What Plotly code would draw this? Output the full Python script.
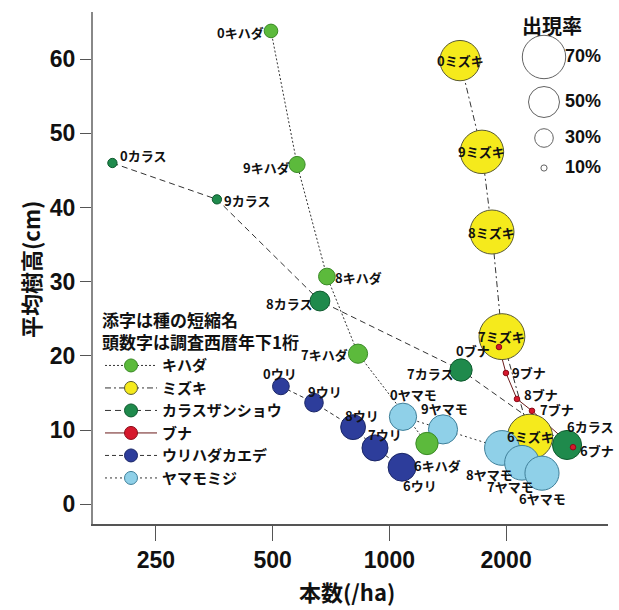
import math
import plotly.graph_objects as go

# 調査年(西暦下1桁)
years = ["0", "9", "8", "7", "6"]

# 種名と図中の短縮名
species = ["キハダ", "ミズキ", "カラスザンショウ", "ブナ", "ウリハダカエデ", "ヤマモミジ"]
short_names = ["キハダ", "ミズキ", "カラス", "ブナ", "ウリ", "ヤマモ"]

# 本数(/ha)
kihada_n = [495, 578, 690, 830, 1250]
mizuki_n = [1521, 1733, 1839, 1951, 2305]
karasu_n = [193, 359, 662, 1530, 2872]
buna_n = [1917, 1998, 2133, 2332, 2976]
uri_n = [525, 639, 806, 918, 1078]
yamamo_n = [1084, 1375, 1951, 2198, 2475]

# 平均樹高(cm)
kihada_h = [63.8, 45.8, 30.7, 20.3, 8.2]
mizuki_h = [59.8, 47.5, 36.7, 22.6, 9.1]
karasu_h = [46.0, 41.1, 27.4, 18.1, 8.0]
buna_h = [21.2, 17.7, 14.2, 12.6, 7.7]
uri_h = [15.9, 13.7, 10.4, 7.6, 5.0]
yamamo_h = [11.8, 10.1, 7.6, 5.6, 4.2]

# 出現率(%)
kihada_rate = [22, 26, 27, 31, 36]
mizuki_rate = [65, 70, 71, 74, 73]
karasu_rate = [15, 15, 32, 36, 47]
buna_rate = [9, 9, 9, 9, 9]
uri_rate = [27, 30, 40, 42, 45]
yamamo_rate = [44, 47, 56, 56, 55]

# 出現率の凡例
rate_legend = [70, 50, 30, 10]

x_tickvals = [250, 500, 1000, 2000]
y_tickvals = [0, 10, 20, 30, 40, 50, 60]

counts = [kihada_n, mizuki_n, karasu_n, buna_n, uri_n, yamamo_n]
heights = [kihada_h, mizuki_h, karasu_h, buna_h, uri_h, yamamo_h]
rates = [kihada_rate, mizuki_rate, karasu_rate, buna_rate, uri_rate, yamamo_rate]

# 表示スタイル
fills = ["#5cba3c", "#f5ea1c", "#1f8a4c", "#d6182c", "#2d3d9b", "#8fd0e8"]
edges = ["#3a8a26", "#5a5a30", "#0e5a2e", "#8a0c18", "#1a2666", "#3f7f99"]
dashes = ["2px,2px", "6px,3px,2px,3px", "6px,4px", "solid", "4px,3px", "2px,3px"]
line_colors = ["#333333", "#333333", "#333333", "#6a1a1a", "#333333", "#333333"]
draw_order = [1, 5, 4, 2, 0, 3]  # ミズキ→ヤマモミジ→ウリ→カラス→キハダ→ブナ

# ラベル位置 (xanchor, xshift, yshift)
label_pos = [
    [("right", -5, -2), ("right", -5, -3), ("left", 6, -1), ("right", -8, -1), ("center", 11, -22)],
    [("center", 0, 0)] * 5,
    [("left", 6, 8), ("left", 5, -1), ("right", -6, -2), ("right", -6, -3), ("center", 23, 18)],
    [("right", -7, -3), ("left", 4, 1), ("left", 5, 4), ("left", 6, 1), ("left", 5, -3)],
    [("center", -1, 13), ("center", 11, 11), ("center", 9, 12), ("center", 10, 13), ("center", 18, -18)],
    [("center", 11, 22), ("center", 1, 21), ("center", -12, -27), ("center", -12, -24), ("center", 1, -25)],
]

PX_PER_PCT = 0.62


def diam(r):
    return r * PX_PER_PCT


JP = "Noto Sans CJK JP"
NUM = "Liberation Sans, Arial"

fig = go.Figure()

# 年次を結ぶ線
for i in range(len(species)):
    fig.add_trace(go.Scatter(
        x=counts[i], y=heights[i], mode="lines",
        line=dict(color=line_colors[i], width=1, dash=dashes[i]),
        showlegend=False, hoverinfo="skip"))

# 出現率を直径で示すバブル
for i in draw_order:
    fig.add_trace(go.Scatter(
        x=counts[i], y=heights[i], mode="markers",
        marker=dict(size=[diam(r) for r in rates[i]], sizemode="diameter",
                    color=fills[i], opacity=1,
                    line=dict(color=edges[i], width=1)),
        showlegend=False,
        hovertext=[y + short_names[i] for y in years]))

# 種の凡例
for i in range(len(species)):
    fig.add_trace(go.Scatter(
        x=[None], y=[None], mode="lines+markers", name=species[i],
        line=dict(color=line_colors[i], width=1, dash=dashes[i]),
        marker=dict(size=13, color=fills[i], line=dict(color=edges[i], width=1))))

# 出現率の凡例 (画素座標の重ね軸)
leg_y = [57, 102, 138, 168]
fig.add_trace(go.Scatter(
    x=[544] * len(rate_legend), y=leg_y, xaxis="x2", yaxis="y2",
    mode="markers",
    marker=dict(size=[diam(r) for r in rate_legend], sizemode="diameter",
                color="white", line=dict(color="#222", width=1)),
    showlegend=False, hoverinfo="skip"))
fig.add_trace(go.Scatter(
    x=[565] * len(rate_legend), y=leg_y, xaxis="x2", yaxis="y2",
    mode="text", text=["%d%%" % r for r in rate_legend], textposition="middle right",
    textfont=dict(family=NUM, size=18, color="#111", weight="bold"),
    showlegend=False, hoverinfo="skip"))

annotations = []
for i in range(len(species)):
    for j in range(len(years)):
        xa, dx, dy = label_pos[i][j]
        annotations.append(dict(
            x=math.log10(counts[i][j]), y=heights[i][j], xref="x", yref="y",
            text=years[j] + short_names[i], showarrow=False,
            xanchor=xa, yanchor="middle", xshift=dx, yshift=dy,
            font=dict(family=JP, size=13, color="#111", weight="bold")))

annotations += [
    dict(x=(552 - 93) / 515, y=(524 - 25) / 512, xref="paper", yref="paper",
         text="出現率", showarrow=False, xanchor="center", yanchor="middle",
         font=dict(family=JP, size=20, color="#111", weight="bold")),
    dict(x=(347 - 93) / 515, y=(524 - 591) / 512, xref="paper", yref="paper",
         text="本数(/ha)", showarrow=False, xanchor="center", yanchor="middle",
         font=dict(family=JP, size=22, color="#111", weight="bold")),
    dict(x=(30 - 93) / 515, y=(524 - 270) / 512, xref="paper", yref="paper",
         text="平均樹高(cm)", showarrow=False, xanchor="center", yanchor="middle",
         textangle=-90,
         font=dict(family=JP, size=22, color="#111", weight="bold")),
]

fig.update_layout(
    width=619, height=610,
    margin=dict(l=93, r=11, t=12, b=86),
    paper_bgcolor="white", plot_bgcolor="white",
    xaxis=dict(type="log", range=[math.log10(172), math.log10(3663)],
               tickvals=x_tickvals, ticktext=[str(v) for v in x_tickvals],
               ticks="outside", ticklen=15, tickcolor="#555", tickwidth=1,
               showline=True, linecolor="#555", linewidth=1.5,
               showgrid=False, zeroline=False,
               tickfont=dict(family=NUM, size=23, color="#111", weight="bold")),
    yaxis=dict(range=[-2.65, 66.35], tickvals=y_tickvals,
               ticks="outside", ticklen=11, tickcolor="#555", tickwidth=1,
               showline=True, linecolor="#888", linewidth=2,
               showgrid=False, zeroline=False,
               tickfont=dict(family=NUM, size=23, color="#111", weight="bold")),
    xaxis2=dict(overlaying="x", range=[93, 608], visible=False),
    yaxis2=dict(overlaying="y", range=[524, 12], visible=False),
    legend=dict(x=(100 - 93) / 515, y=(524 - 305) / 512, xanchor="left", yanchor="top",
                bgcolor="rgba(0,0,0,0)",
                title=dict(text="添字は種の短縮名<br>頭数字は調査西暦年下1桁",
                           font=dict(family=JP, size=17, color="#111", weight="bold")),
                font=dict(family=JP, size=15, color="#111", weight="bold"),
                itemwidth=52, tracegroupgap=0),
    annotations=annotations,
    font=dict(family=JP),
)

fig.write_html("out.html")
